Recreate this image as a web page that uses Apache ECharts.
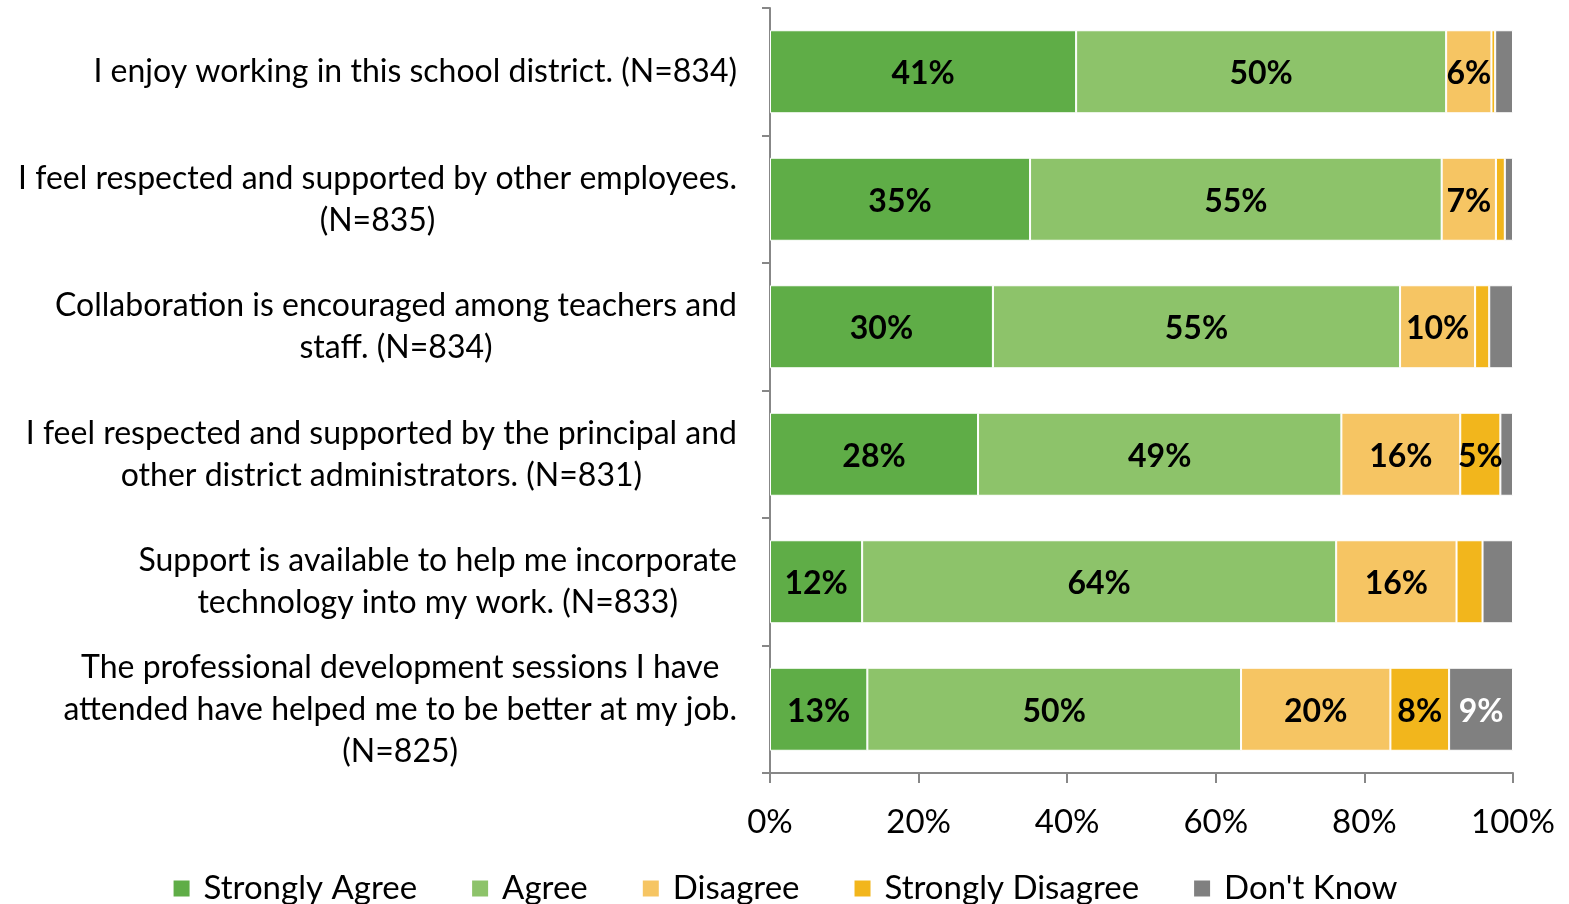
<!DOCTYPE html>
<html>
<head>
<meta charset="utf-8">
<script src="https://cdn.jsdelivr.net/npm/echarts@6/dist/echarts.min.js"></script>
<style>
html,body{margin:0;padding:0;background:#fff;}
#chart{width:1569px;height:904px;}
</style>
</head>
<body>
<div id="chart"></div>
<script>
const categories = [
  'I enjoy working in this school district. (N=834)',
  'I feel respected and supported by other employees.\n(N=835)',
  'Collaboration is encouraged among teachers and\nstaff. (N=834)',
  'I feel respected and supported by the principal and\nother district administrators. (N=831)',
  'Support is available to help me incorporate\ntechnology into my work. (N=833)',
  'The professional development sessions I have\nattended have helped me to be better at my job.\n(N=825)'
];
const seriesNames = ['Strongly Agree', 'Agree', 'Disagree', 'Strongly Disagree', "Don't Know"];
const stronglyAgree    = [41.2, 35.0, 30.0, 28.0, 12.4, 13.1];
const agree            = [49.8, 55.4, 54.8, 48.9, 63.8, 50.3];
const disagree         = [6.1, 7.3, 10.1, 16.0, 16.2, 20.1];
const stronglyDisagree = [0.5, 1.2, 1.9, 5.4, 3.5, 7.9];
const dontKnow         = [2.4, 1.1, 3.2, 1.7, 4.1, 8.6];
const xTicks = [0, 20, 40, 60, 80, 100];

const seriesData = [stronglyAgree, agree, disagree, stronglyDisagree, dontKnow];
const colors = ['#5FAD47', '#8DC36A', '#F6C563', '#F2B61C', '#808080'];
const labelColors = ['#000', '#000', '#000', '#000', '#fff'];
const FONT = 'Lato';

const chart = echarts.init(document.getElementById('chart'), null, {renderer: 'canvas'});
const option = {
  animation: false,
  backgroundColor: '#fff',
  textStyle: {fontFamily: FONT},
  grid: {left: 770, right: 56, top: 8, bottom: 131, containLabel: false},
  xAxis: {
    type: 'value',
    min: xTicks[0], max: xTicks[xTicks.length - 1], interval: 20,
    axisLine: {show: true, lineStyle: {color: '#878787', width: 2}},
    axisTick: {show: true, length: 10, lineStyle: {color: '#878787', width: 2}},
    splitLine: {show: false},
    axisLabel: {formatter: '{value}%', color: '#000', fontSize: 33, fontFamily: FONT, margin: 33}
  },
  yAxis: {
    type: 'category',
    inverse: true,
    data: categories,
    axisLine: {show: true, lineStyle: {color: '#878787', width: 2}},
    axisTick: {show: true, length: 8, lineStyle: {color: '#878787', width: 2}},
    axisLabel: {
      color: '#000', fontSize: 32, fontFamily: FONT, margin: 33, align: 'right', lineHeight: 42,
      formatter: function (v) { return v.split('\n').map(function (l) { return '{c|' + l + '}'; }).join('\n'); },
      rich: {c: {align: 'center', fontSize: 32, fontFamily: FONT, color: '#000', lineHeight: 42}}
    }
  },
  legend: {
    bottom: -6, left: 'center',
    icon: 'rect', itemWidth: 18, itemHeight: 18, itemGap: 53,
    textStyle: {fontSize: 33, fontFamily: FONT, color: '#000', padding: [0, 0, 0, 8]},
    data: seriesNames
  },
  series: seriesNames.map(function (name, i) {
    return {
      name: name,
      type: 'bar',
      stack: 'total',
      data: seriesData[i],
      barWidth: 83,
      itemStyle: {color: colors[i], borderColor: '#fff', borderWidth: 1},
      label: {
        show: true, position: 'inside', offset: [0, 2],
        color: labelColors[i], fontSize: 32, fontWeight: 'bold', fontFamily: FONT,
        formatter: function (p) { return p.value >= 5 ? Math.round(p.value) + '%' : ''; }
      }
    };
  })
};
chart.setOption(option);
</script>
</body>
</html>
